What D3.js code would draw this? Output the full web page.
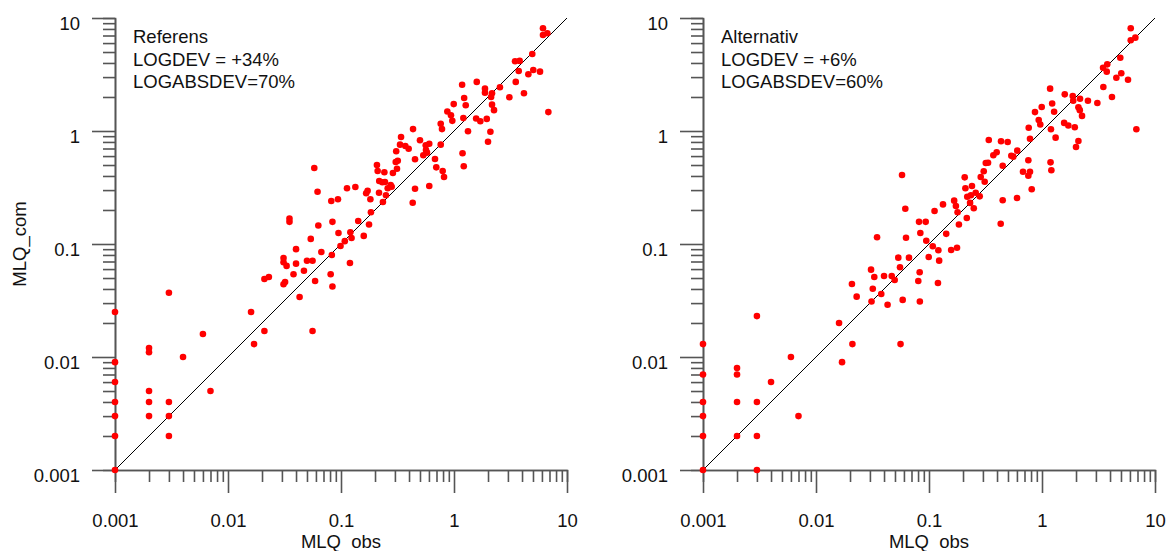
<!DOCTYPE html>
<html>
<head>
<meta charset="utf-8">
<title>MLQ obs vs com</title>
<style>
body { margin: 0; background: #fff; }
svg { display: block; font-family: Arial, "Liberation Sans", sans-serif; }
.axis path, .axis line { stroke: #555; stroke-width: 1.6; }
.axis text { font-size: 18.5px; fill: #111; }
.dot { fill: #ff0000; }
.diag { stroke: #000; stroke-width: 1; fill: none; }
.note, .label { font-size: 18.5px; fill: #111; }
</style>
</head>
<body>
<div id="chart"></div>
<script src="https://d3js.org/d3.v7.min.js"></script>
<script>

// axis ticks (log scale, both axes)
const majorTicks = [0.001, 0.01, 0.1, 1, 10];
const majorLabels = ["0.001", "0.01", "0.1", "1", "10"];
const minorTicks = [0.002, 0.003, 0.004, 0.005, 0.006, 0.007, 0.008, 0.009,
	0.02, 0.03, 0.04, 0.05, 0.06, 0.07, 0.08, 0.09,
	0.2, 0.3, 0.4, 0.5, 0.6, 0.7, 0.8, 0.9,
	2, 3, 4, 5, 6, 7, 8, 9];
const diagEnds = [0.001, 10];

// Referens: observed / computed
const obsRef = [0.001, 0.001, 0.001, 0.001, 0.001, 0.001, 0.001,
	0.002, 0.002, 0.002, 0.002, 0.002,
	0.003, 0.003, 0.003, 0.003,
	0.004, 0.006, 0.007, 0.016, 0.017, 0.021,
	0.058, 0.062, 0.035, 0.035, 0.063, 0.084, 0.082, 0.094, 0.113, 0.134,
	0.054, 0.040, 0.095, 0.121, 0.142, 0.177, 0.159, 0.184, 0.108, 0.099,
	0.124, 0.067, 0.083, 0.120, 0.031, 0.031, 0.033, 0.040, 0.050, 0.056,
	0.047, 0.038, 0.023, 0.021, 0.032, 0.031, 0.059, 0.081, 0.084, 0.043,
	0.056,
	0.208, 0.211, 0.242, 0.218, 0.232, 0.245, 0.275, 0.281, 0.259, 0.217,
	0.250, 0.235, 0.172, 0.167, 0.182, 0.288, 0.313, 0.305, 0.318, 0.308,
	0.333, 0.371, 0.397, 0.452, 0.452, 0.431, 0.535, 0.500, 0.562,
	6.13, 6.13, 6.70, 4.93, 3.47, 3.81, 3.74, 5.03, 5.77, 4.55,
	3.52, 4.16, 3.09, 6.84, 2.55, 1.59, 1.18, 1.88, 1.88, 2.17,
	2.13, 1.23, 1.27, 0.994, 2.17, 2.26, 0.873, 0.940, 0.966, 1.21,
	1.57, 1.71, 1.95, 0.763, 0.783, 0.434, 1.33, 2.10, 2.00, 0.340,
	0.604, 0.763, 0.565, 0.577, 0.679, 1.19, 1.22, 0.604, 0.697, 0.794, 0.816];
const comRef = [0.025, 0.009, 0.006, 0.004, 0.003, 0.002, 0.001,
	0.012, 0.011, 0.005, 0.004, 0.003,
	0.037, 0.004, 0.003, 0.002,
	0.010, 0.016, 0.005, 0.025, 0.013, 0.017,
	0.47, 0.29, 0.168, 0.157, 0.146, 0.157, 0.24, 0.249, 0.311, 0.319,
	0.111, 0.090, 0.125, 0.127, 0.160, 0.149, 0.118, 0.191, 0.106, 0.096,
	0.113, 0.085, 0.080, 0.068, 0.075, 0.069, 0.064, 0.067, 0.071, 0.071,
	0.058, 0.054, 0.051, 0.049, 0.046, 0.044, 0.047, 0.054, 0.042, 0.034,
	0.017,
	0.50, 0.443, 0.431, 0.361, 0.352, 0.354, 0.333, 0.321, 0.311, 0.284,
	0.270, 0.235, 0.296, 0.281, 0.249, 0.425, 0.464, 0.532, 0.546, 0.661,
	0.757, 0.737, 0.697, 0.562, 0.308, 0.232, 0.610, 0.828, 0.747,
	8.11, 7.08, 7.32, 4.80, 4.14, 4.17, 3.40, 3.47, 3.35, 3.18,
	2.72, 2.16, 1.99, 1.47, 2.44, 2.72, 2.57, 2.37, 2.18, 2.16,
	2.00, 1.96, 1.69, 1.73, 1.71, 1.53, 1.49, 1.38, 1.23, 1.30,
	1.29, 1.22, 1.28, 1.16, 1.04, 1.04, 0.994, 0.986, 0.804, 0.885,
	0.772, 0.757, 0.679, 0.643, 0.565, 0.635, 0.487, 0.326, 0.477, 0.443, 0.392];

// Alternativ: observed / computed
const obsAlt = [0.001, 0.001, 0.001, 0.001, 0.001, 0.001,
	0.002, 0.002, 0.002, 0.002,
	0.003, 0.003, 0.003, 0.003,
	0.004, 0.006, 0.007, 0.016, 0.017, 0.021,
	0.031, 0.043, 0.0585, 0.083, 0.056,
	0.0577, 0.0617, 0.0347, 0.0626, 0.0816, 0.0935, 0.0838, 0.0946, 0.112, 0.133,
	0.108, 0.121, 0.142, 0.0994, 0.123, 0.157, 0.177, 0.184, 0.216, 0.179,
	0.167, 0.173, 0.249, 0.210, 0.207, 0.240, 0.218, 0.235, 0.231, 0.259,
	0.281, 0.287, 0.305, 0.311, 0.318, 0.333, 0.371, 0.397, 0.449, 0.449,
	0.431, 0.338, 0.434, 0.497, 0.0535, 0.0665, 0.0554, 0.0307, 0.0328, 0.040,
	0.0468, 0.0497, 0.0827, 0.0804, 0.120, 0.0208, 0.0318, 0.0378, 0.0229,
	6.10, 6.10, 6.70, 4.93, 3.47, 3.78, 3.74, 5.03, 4.55, 5.77,
	3.49, 4.16, 3.09, 6.84, 2.55, 1.18, 1.59, 1.87, 1.89, 2.17,
	1.23, 0.994, 2.10, 2.16, 1.28, 0.867, 2.26, 0.935, 0.966, 1.57,
	1.71, 1.95, 1.20, 0.763, 0.783, 1.32, 2.10, 2.00,
	0.535, 0.557, 0.604, 0.757,
	0.679, 0.783, 0.757, 0.811, 0.601, 1.19, 1.21];
const comAlt = [0.013, 0.007, 0.004, 0.003, 0.002, 0.001,
	0.008, 0.007, 0.004, 0.002,
	0.023, 0.004, 0.002, 0.001,
	0.006, 0.010, 0.003, 0.020, 0.009, 0.013,
	0.031, 0.029, 0.032, 0.031, 0.013,
	0.408, 0.205, 0.1146, 0.1137, 0.157, 0.157, 0.125, 0.107, 0.196, 0.224,
	0.0955, 0.088, 0.123, 0.0767, 0.0712, 0.0885, 0.0927, 0.149, 0.170, 0.191,
	0.242, 0.217, 0.207, 0.311, 0.389, 0.326, 0.262, 0.270, 0.231, 0.284,
	0.264, 0.392, 0.440, 0.356, 0.521, 0.524, 0.610, 0.648, 0.493, 0.244,
	0.151, 0.832, 0.811, 0.800, 0.0757, 0.0757, 0.0622, 0.0593, 0.0511, 0.0521,
	0.0521, 0.048, 0.0562, 0.0471, 0.0452, 0.0443, 0.0402, 0.0361, 0.0342,
	8.11, 6.35, 6.70, 4.45, 3.63, 3.89, 3.35, 3.24, 2.96, 2.84,
	2.45, 2.00, 1.77, 1.035, 1.85, 2.37, 2.11, 2.04, 1.85, 1.93,
	1.75, 1.63, 1.62, 1.53, 1.48, 1.47, 1.36, 1.25, 1.14, 1.18,
	1.12, 1.08, 1.035, 1.07, 0.855, 0.873, 0.816, 0.721,
	0.604, 0.593, 0.670, 0.551,
	0.436, 0.436, 0.402, 0.305, 0.255, 0.528, 0.449];

const notesRef = ["Referens", "LOGDEV = +34%", "LOGABSDEV=70%"];
const notesAlt = ["Alternativ", "LOGDEV = +6%", "LOGABSDEV=60%"];

const width = 1168, height = 551;
const svg = d3.select('#chart').append('svg')
	.attr('width', width)
	.attr('height', height);

// shared y scale
const y = d3.scaleLog().domain([0.001, 10]).range([470, 18]);

function drawPanel(x0, obs, com, notes, yTitle) {
	const x = d3.scaleLog().domain([0.001, 10]).range([x0, x0 + 452]);
	const g = svg.append('g');

	// minor ticks
	g.append('g').attr('class', 'axis')
		.attr('transform', `translate(${x0},0)`)
		.call(d3.axisLeft(y).tickValues(minorTicks).tickSize(12).tickFormat(''));
	g.append('g').attr('class', 'axis')
		.attr('transform', 'translate(0,470)')
		.call(d3.axisBottom(x).tickValues(minorTicks).tickSize(12).tickFormat(''));

	// major ticks + labels
	const ya = g.append('g').attr('class', 'axis')
		.attr('transform', `translate(${x0},0)`)
		.call(d3.axisLeft(y).tickValues(majorTicks).tickSize(23).tickSizeOuter(0)
			.tickFormat((d, i) => majorLabels[i]));
	ya.selectAll('text').attr('x', -35).attr('dy', 11.5);

	const xa = g.append('g').attr('class', 'axis')
		.attr('transform', 'translate(0,470)')
		.call(d3.axisBottom(x).tickValues(majorTicks).tickSize(23).tickSizeOuter(0)
			.tickFormat((d, i) => majorLabels[i]));
	xa.selectAll('text').attr('y', 57).attr('dy', 0);

	// 1:1 line
	g.append('line').attr('class', 'diag')
		.attr('x1', x(diagEnds[0])).attr('y1', y(diagEnds[0]))
		.attr('x2', x(diagEnds[1])).attr('y2', y(diagEnds[1]));

	// points
	g.selectAll('circle')
		.data(obs.map((d, i) => [d, com[i]]))
		.enter()
		.append('circle')
		.attr('class', 'dot')
		.attr('cx', d => x(d[0]))
		.attr('cy', d => y(d[1]))
		.attr('r', 3.3);

	// text box
	g.selectAll('text.note')
		.data(notes)
		.enter()
		.append('text')
		.attr('class', 'note')
		.attr('x', x0 + 18)
		.attr('y', (d, i) => 43 + i * 22.7)
		.text(d => d);

	g.append('text').attr('class', 'label')
		.attr('x', x0 + 226).attr('y', 548)
		.attr('text-anchor', 'middle')
		.text('MLQ_obs');

	if (yTitle) {
		g.append('text').attr('class', 'label')
			.attr('transform', 'translate(26,244) rotate(-90)')
			.attr('text-anchor', 'middle')
			.text(yTitle);
	}
}

drawPanel(115, obsRef, comRef, notesRef, 'MLQ_com');
drawPanel(703, obsAlt, comAlt, notesAlt, null);

</script>
</body>
</html>
